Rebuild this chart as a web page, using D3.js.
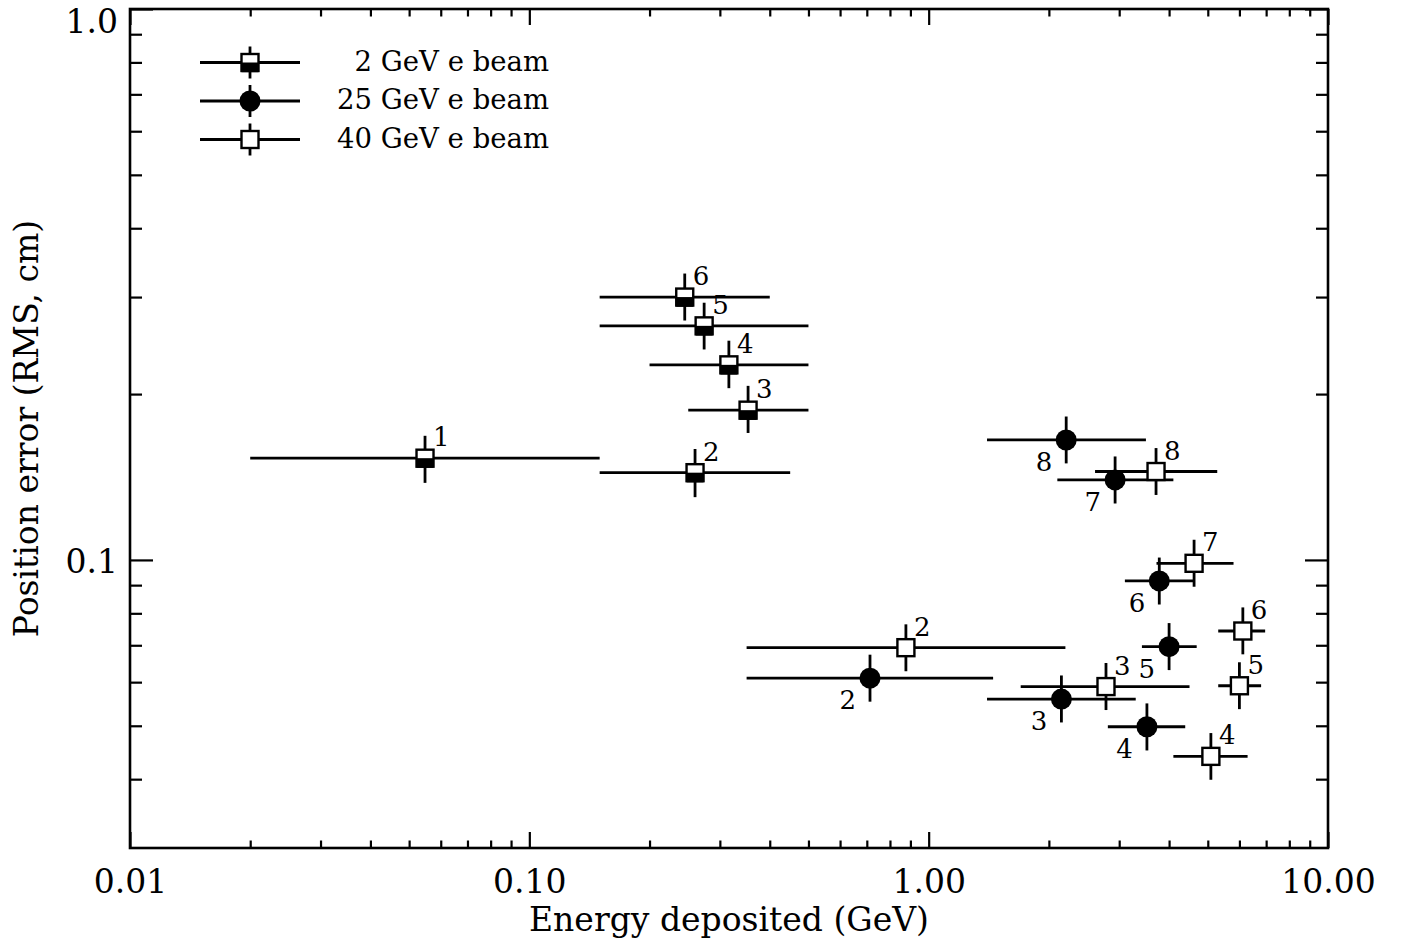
<!DOCTYPE html>
<html>
<head>
<meta charset="utf-8">
<script src="https://cdn.jsdelivr.net/npm/d3@7"></script>
<style>
  html, body { margin: 0; padding: 0; background: #fff; }
  svg { display: block; }
  text { font-family: "DejaVu Serif", "Liberation Serif", serif; fill: #000; }
</style>
</head>
<body>
<svg id="chart" width="1401" height="946"></svg>
<script>
// ---- data -------------------------------------------------------------
// 2 GeV e beam (half-filled squares)
const beam2Labels = ["1", "2", "3", "4", "5", "6"];
const beam2X    = [0.0548, 0.260, 0.353, 0.316, 0.274, 0.245];
const beam2XLo  = [0.020, 0.150, 0.250, 0.200, 0.150, 0.150];
const beam2XHi  = [0.150, 0.450, 0.500, 0.500, 0.500, 0.400];
const beam2Y    = [0.153, 0.144, 0.187, 0.226, 0.266, 0.300];
const beam2YLo  = [0.138, 0.130, 0.170, 0.205, 0.241, 0.272];
const beam2YHi  = [0.168, 0.159, 0.207, 0.250, 0.293, 0.331];

// 25 GeV e beam (filled circles)
const beam25Labels = ["2", "3", "4", "5", "6", "7", "8"];
const beam25X   = [0.713, 2.15, 3.52, 4.00, 3.78, 2.93, 2.21];
const beam25XLo = [0.350, 1.40, 2.81, 3.42, 3.10, 2.10, 1.40];
const beam25XHi = [1.45, 3.30, 4.39, 4.69, 4.63, 4.10, 3.50];
const beam25Y   = [0.0610, 0.0559, 0.0498, 0.0696, 0.0916, 0.1397, 0.1651];
const beam25YLo = [0.0553, 0.0507, 0.0451, 0.0631, 0.0830, 0.1266, 0.1497];
const beam25YHi = [0.0673, 0.0617, 0.0549, 0.0768, 0.1010, 0.1541, 0.1821];

// 40 GeV e beam (open squares)
const beam40Labels = ["2", "3", "4", "5", "6", "7", "8"];
const beam40X   = [0.877, 2.78, 5.09, 6.00, 6.12, 4.62, 3.71];
const beam40XLo = [0.350, 1.70, 4.10, 5.31, 5.31, 3.72, 2.61];
const beam40XHi = [2.20, 4.50, 6.29, 6.80, 6.96, 5.80, 5.28];
const beam40Y   = [0.0693, 0.0589, 0.0440, 0.0591, 0.0743, 0.0986, 0.1447];
const beam40YLo = [0.0628, 0.0534, 0.0399, 0.0536, 0.0674, 0.0894, 0.1312];
const beam40YHi = [0.0764, 0.0650, 0.0485, 0.0652, 0.0820, 0.1088, 0.1596];

const legendNames = ["2 GeV e beam", "25 GeV e beam", "40 GeV e beam"];

// axis ticks
const xMajorTicks = [0.01, 0.1, 1, 10];
const xMajorLabels = ["0.01", "0.10", "1.00", "10.00"];
const xMinorTicks = [0.02,0.03,0.04,0.05,0.06,0.07,0.08,0.09,
                     0.2,0.3,0.4,0.5,0.6,0.7,0.8,0.9,
                     2,3,4,5,6,7,8,9];
const yMajorTicks = [0.1, 1.0];
const yMajorLabels = ["0.1", "1.0"];
const yMinorTicks = [0.04,0.05,0.06,0.07,0.08,0.09,0.2,0.3,0.4,0.5,0.6,0.7,0.8,0.9];

const xTitle = "Energy deposited (GeV)";
const yTitle = "Position error (RMS, cm)";

// ---- layout -----------------------------------------------------------
const L = 130, R = 1328, T = 9, B = 848;
const svg = d3.select("#chart");

const x = d3.scaleLog().domain([0.01, 10]).range([L, R]);
const y = d3.scaleLog().domain([0.03, 1.0]).range([B, T]);

const tickFont = 33;
const titleFont = 33;

function styleAxis(g) {
  g.select(".domain").remove();
  g.selectAll(".tick line").attr("stroke", "#000").attr("stroke-width", 2.2);
}

// bottom axis: major labelled ticks, minor ticks pointing up into the plot
svg.append("g").attr("transform", `translate(0,${B})`)
  .call(d3.axisBottom(x).tickValues(xMajorTicks).tickSize(-16).tickPadding(22)
        .tickFormat((d, i) => xMajorLabels[i]))
  .call(styleAxis)
  .call(g => g.selectAll("text").attr("font-size", tickFont)
        .attr("font-family", "DejaVu Serif"));
svg.append("g").attr("transform", `translate(0,${B})`)
  .call(d3.axisBottom(x).tickValues(xMinorTicks).tickSize(-7.5).tickFormat(""))
  .call(styleAxis);

// top axis mirror
svg.append("g").attr("transform", `translate(0,${T})`)
  .call(d3.axisTop(x).tickValues(xMajorTicks).tickSize(-16).tickFormat(""))
  .call(styleAxis);
svg.append("g").attr("transform", `translate(0,${T})`)
  .call(d3.axisTop(x).tickValues(xMinorTicks).tickSize(-7.5).tickFormat(""))
  .call(styleAxis);

// left axis
const yLabelShift = { "0.1": 13, "1.0": 23 };
svg.append("g").attr("transform", `translate(${L},0)`)
  .call(d3.axisLeft(y).tickValues(yMajorTicks).tickSize(-23).tickPadding(12)
        .tickFormat((d, i) => yMajorLabels[i]))
  .call(styleAxis)
  .call(g => g.selectAll("text").attr("font-size", tickFont)
        .attr("font-family", "DejaVu Serif")
        .attr("dy", null)
        .attr("y", function () { return yLabelShift[this.textContent]; }));
svg.append("g").attr("transform", `translate(${L},0)`)
  .call(d3.axisLeft(y).tickValues(yMinorTicks).tickSize(-12).tickFormat(""))
  .call(styleAxis);

// right axis mirror
svg.append("g").attr("transform", `translate(${R},0)`)
  .call(d3.axisRight(y).tickValues(yMajorTicks).tickSize(-23).tickFormat(""))
  .call(styleAxis);
svg.append("g").attr("transform", `translate(${R},0)`)
  .call(d3.axisRight(y).tickValues(yMinorTicks).tickSize(-12).tickFormat(""))
  .call(styleAxis);

// frame
svg.append("rect")
  .attr("x", L).attr("y", T).attr("width", R - L).attr("height", B - T)
  .attr("fill", "none").attr("stroke", "#000").attr("stroke-width", 2.6);

// axis titles
svg.append("text")
  .attr("x", (L + R) / 2).attr("y", 931)
  .attr("text-anchor", "middle").attr("font-size", titleFont)
  .text(xTitle);
svg.append("text")
  .attr("transform", `translate(38,${(T + B) / 2}) rotate(-90)`)
  .attr("text-anchor", "middle").attr("font-size", titleFont)
  .text(yTitle);

// ---- series -----------------------------------------------------------
function buildSeries(labels, xs, xlo, xhi, ys, ylo, yhi) {
  return labels.map((lab, i) => ({
    label: lab, x: xs[i], xlo: xlo[i], xhi: xhi[i], y: ys[i], ylo: ylo[i], yhi: yhi[i]
  }));
}
const series = [
  { kind: "half",   labelPos: "ur", pts: buildSeries(beam2Labels, beam2X, beam2XLo, beam2XHi, beam2Y, beam2YLo, beam2YHi) },
  { kind: "circle", labelPos: "ll", pts: buildSeries(beam25Labels, beam25X, beam25XLo, beam25XHi, beam25Y, beam25YLo, beam25YHi) },
  { kind: "square", labelPos: "ur", pts: buildSeries(beam40Labels, beam40X, beam40XLo, beam40XHi, beam40Y, beam40YLo, beam40YHi) }
];

const plot = svg.append("g");
const lw = 2.8;

// error bars (drawn beneath every marker)
series.forEach(s => {
  const g = plot.append("g");
  g.selectAll("line.h").data(s.pts).join("line")
    .attr("x1", d => x(d.xlo)).attr("x2", d => x(d.xhi))
    .attr("y1", d => y(d.y)).attr("y2", d => y(d.y))
    .attr("stroke", "#000").attr("stroke-width", lw);
  g.selectAll("line.v").data(s.pts).join("line")
    .attr("x1", d => x(d.x)).attr("x2", d => x(d.x))
    .attr("y1", d => y(d.ylo)).attr("y2", d => y(d.yhi))
    .attr("stroke", "#000").attr("stroke-width", lw);
});

const SQ = 17;   // square marker side
const CR = 10.5; // circle marker radius

function drawMarker(g, kind, cx, cy) {
  if (kind === "circle") {
    g.append("circle").attr("cx", cx).attr("cy", cy).attr("r", CR).attr("fill", "#000");
  } else {
    g.append("rect")
      .attr("x", cx - SQ / 2).attr("y", cy - SQ / 2).attr("width", SQ).attr("height", SQ)
      .attr("fill", "#fff").attr("stroke", "#000").attr("stroke-width", 2.4);
    if (kind === "half") {
      g.append("rect")
        .attr("x", cx - SQ / 2).attr("y", cy).attr("width", SQ).attr("height", SQ / 2 + 1.2)
        .attr("fill", "#000");
    }
  }
}

series.forEach(s => {
  const g = plot.append("g");
  s.pts.forEach(d => drawMarker(g, s.kind, x(d.x), y(d.y)));
  g.selectAll("text").data(s.pts).join("text")
    .attr("font-size", 26)
    .attr("text-anchor", s.labelPos === "ur" ? "start" : "end")
    .attr("x", d => s.labelPos === "ur" ? x(d.x) + 8 : x(d.x) - 14)
    .attr("y", d => s.labelPos === "ur" ? y(d.y) - 12 : y(d.y) + 31)
    .text(d => d.label);
});

// ---- legend -----------------------------------------------------------
const legendKinds = ["half", "circle", "square"];
const legendRows = [62.5, 101, 139.5];
const lg = svg.append("g");
legendKinds.forEach((k, i) => {
  const cy = legendRows[i];
  lg.append("line").attr("x1", 200).attr("x2", 300).attr("y1", cy).attr("y2", cy)
    .attr("stroke", "#000").attr("stroke-width", lw);
  lg.append("line").attr("x1", 250).attr("x2", 250).attr("y1", cy - 16).attr("y2", cy + 16)
    .attr("stroke", "#000").attr("stroke-width", lw);
  drawMarker(lg, k, 250, cy);
  lg.append("text").attr("x", 549).attr("y", cy + 8)
    .attr("text-anchor", "end").attr("font-size", 27.5)
    .text(legendNames[i]);
});
</script>
</body>
</html>
